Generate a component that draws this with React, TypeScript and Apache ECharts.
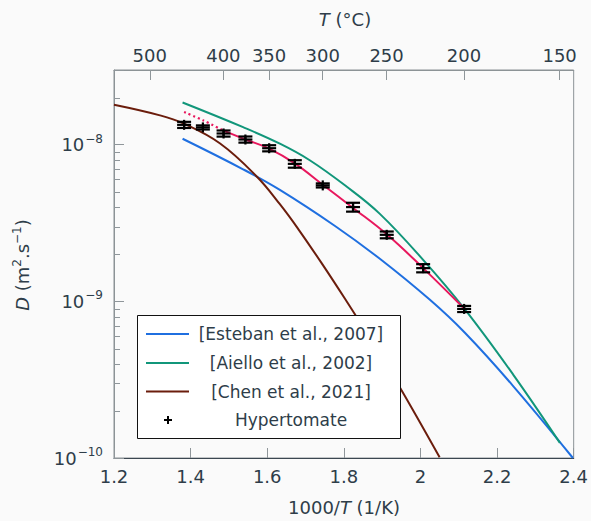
import React, { useEffect, useRef } from 'react';
import * as echarts from 'echarts';

// Hypertomate measurements (x = 1000/T in 1/K, D in m2/s, relative error)
const hyperX = [1.383, 1.432, 1.486, 1.543, 1.605, 1.672, 1.745, 1.824, 1.912, 2.007, 2.114];
const hyperY = [1.34e-8, 1.29e-8, 1.18e-8, 1.08e-8, 9.5e-9, 7.55e-9, 5.5e-9, 4.0e-9, 2.66e-9, 1.63e-9, 8.95e-10];
const hyperErr = [0.045, 0.03, 0.045, 0.045, 0.045, 0.055, 0.03, 0.065, 0.05, 0.06, 0.045];

// Fit (pink): solid part and dotted extrapolation
const fitX = [1.486, 1.543, 1.605, 1.672, 1.745, 1.824, 1.912, 2.007, 2.114];
const fitY = [1.23e-8, 1.08e-8, 9.45e-9, 7.6e-9, 5.55e-9, 3.95e-9, 2.68e-9, 1.63e-9, 9.0e-10];
const fitDotX = [1.383, 1.433, 1.486];
const fitDotY = [1.62e-8, 1.43e-8, 1.23e-8];

// [Esteban et al., 2007]
const estebanX = [1.379, 1.537, 1.633, 1.777, 1.894, 2.024, 2.116, 2.242, 2.398];
const estebanY = [1.092e-8, 6.97e-9, 5.15e-9, 3.03e-9, 1.87e-9, 1.026e-9, 6.3e-10, 2.88e-10, 1.0e-10];

// [Aiello et al., 2002]
const aielloX = [1.379, 1.537, 1.633, 1.711, 1.807, 1.894, 2.007, 2.116, 2.242, 2.364];
const aielloY = [1.86e-8, 1.294e-8, 1.015e-8, 7.96e-9, 5.41e-9, 3.62e-9, 1.84e-9, 8.89e-10, 3.41e-10, 1.25e-10];

// [Chen et al., 2021]
const chenX = [1.2, 1.32, 1.381, 1.477, 1.572, 1.633, 1.681, 1.742, 1.803, 1.87, 1.946, 2.05];
const chenY = [1.8e-8, 1.54e-8, 1.368e-8, 1.018e-8, 6.29e-9, 4.17e-9, 2.895e-9, 1.754e-9, 1.038e-9, 5.72e-10, 2.83e-10, 1.01e-10];

// Axis ticks
const topTempTicks = [500, 400, 350, 300, 250, 200, 150];
const minorMantissas = [2, 3, 4, 5, 6, 7, 8, 9];
const decades = [-10, -9, -8];

const legendNames = ['[Esteban et al., 2007]', '[Aiello et al., 2002]', '[Chen et al., 2021]', 'Hypertomate'];

const FONT = 'DejaVu Sans';
const TXT = '#2e3d49';
const AXIS_GRAY = '#8c9396';
const TICK_GRAY = '#8f969a';
const C_BLUE = '#1f6fe0';
const C_GREEN = '#11967a';
const C_BROWN = '#6b1d0c';
const C_PINK = '#e8175d';

const X_MIN = 1.2;
const X_MAX = 2.4;
const Y_MIN = 1e-10;
const Y_MAX = 3e-8;

const zip = (xs: number[], ys: number[]) => xs.map((x, i) => [x, ys[i]]);

export default function App() {
  const ref = useRef<HTMLDivElement>(null);
  useEffect(() => {
    if (!ref.current) return;
    const chart = echarts.init(ref.current, undefined, { renderer: 'svg' });
    const topVals = topTempTicks.map((t) => 1000 / (t + 273.15));
    const minorVals: number[] = [];
    decades.forEach((d) => minorMantissas.forEach((m) => {
      const v = m * Math.pow(10, d);
      if (v <= Y_MAX) minorVals.push(v);
    }));

    const supRich = {
      b: { fontSize: 18, fontFamily: FONT, color: TXT },
      s: { fontSize: 12, fontFamily: FONT, color: TXT, padding: [0, 0, 12, 1] },
    };

    const legendY = [334, 363, 391.5, 420];
    const legendColors = [C_BLUE, C_GREEN, C_BROWN];
    const legendChildren: any[] = [
      { type: 'rect', shape: { x: 137.5, y: 315.5, width: 263, height: 123 }, style: { fill: '#ffffff', stroke: '#111', lineWidth: 1 }, z: 100 },
    ];
    legendNames.forEach((name, i) => {
      if (i < 3) {
        legendChildren.push({ type: 'line', shape: { x1: 146, y1: legendY[i], x2: 189, y2: legendY[i] }, style: { stroke: legendColors[i], lineWidth: 2 }, z: 101 });
      } else {
        legendChildren.push({ type: 'line', shape: { x1: 164, y1: legendY[i], x2: 172, y2: legendY[i] }, style: { stroke: '#000', lineWidth: 2 }, z: 101 });
        legendChildren.push({ type: 'line', shape: { x1: 168, y1: legendY[i] - 4, x2: 168, y2: legendY[i] + 4 }, style: { stroke: '#000', lineWidth: 2 }, z: 101 });
      }
      legendChildren.push({ type: 'text', x: 291, y: legendY[i], style: { text: name, fontSize: 17, fontFamily: FONT, fill: TXT, align: 'center', verticalAlign: 'middle' }, z: 101 });
    });

    const option: any = {
      animation: false,
      backgroundColor: '#fafafa',
      grid: { left: 114, right: 17, top: 70, bottom: 63, show: true, borderColor: AXIS_GRAY, borderWidth: 1, backgroundColor: 'transparent' },
      xAxis: [
        {
          type: 'value', position: 'bottom', min: X_MIN, max: X_MAX, interval: 0.2,
          axisLine: { show: true, lineStyle: { color: '#3b4650', width: 1.2 } },
          axisTick: { show: true, inside: true, length: 10, lineStyle: { color: TICK_GRAY, width: 1 } },
          splitLine: { show: false },
          axisLabel: { margin: 9, fontSize: 18, fontFamily: FONT, color: TXT, formatter: (v: number) => String(+v.toFixed(1)) },
        },
        {
          type: 'value', position: 'top', min: X_MIN, max: X_MAX,
          axisLine: { show: true, lineStyle: { color: AXIS_GRAY, width: 1 } },
          axisTick: { show: true, inside: true, length: 10, customValues: topVals, lineStyle: { color: TICK_GRAY, width: 1 } },
          splitLine: { show: false },
          axisLabel: { margin: 6, fontSize: 18, fontFamily: FONT, color: TXT, customValues: topVals, formatter: (v: number) => String(Math.round(1000 / v - 273.15)) },
        },
      ],
      yAxis: [
        {
          type: 'log', logBase: 10, min: Y_MIN, max: Y_MAX, position: 'left',
          axisLine: { show: true, lineStyle: { color: AXIS_GRAY, width: 1 } },
          axisTick: { show: true, inside: true, length: 10, lineStyle: { color: TICK_GRAY, width: 1 } },
          minorTick: { show: false },
          splitLine: { show: false },
          axisLabel: {
            margin: 11, color: TXT, fontFamily: FONT, fontSize: 18, rich: supRich,
            formatter: (v: number) => {
              const e = Math.log10(v);
              if (Math.abs(e - Math.round(e)) > 0.01) return '';
              return `{b|10}{s|−${-Math.round(e)}}`;
            },
          },
        },
      ],
      graphic: [
        { type: 'text', x: 345, y: 19, style: { text: '{i|T} (°C)', align: 'center', verticalAlign: 'middle', fontSize: 18, fontFamily: FONT, fill: TXT, rich: { i: { fontStyle: 'italic', fontSize: 18, fontFamily: FONT, color: TXT } } }, z: 100 },
        { type: 'text', x: 344, y: 507, style: { text: '1000/{i|T} (1/K)', align: 'center', verticalAlign: 'middle', fontSize: 18, fontFamily: FONT, fill: TXT, rich: { i: { fontStyle: 'italic', fontSize: 18, fontFamily: FONT, color: TXT } } }, z: 100 },
        {
          type: 'text', x: 22, y: 265, rotation: Math.PI / 2,
          style: {
            text: '{i|D} (m{s|2}.s{s|−1})', align: 'center', verticalAlign: 'middle', fontSize: 18, fontFamily: FONT, fill: TXT,
            rich: {
              i: { fontStyle: 'italic', fontSize: 18, fontFamily: FONT, color: TXT },
              s: { fontSize: 12, fontFamily: FONT, color: TXT, padding: [0, 0, 10, 0] },
            },
          },
          z: 100,
        },
        { type: 'group', children: legendChildren },
      ],
      series: [
        { type: 'line', name: legendNames[0], data: zip(estebanX, estebanY), smooth: 0.4, showSymbol: false, lineStyle: { color: C_BLUE, width: 2 }, z: 3 },
        { type: 'line', name: legendNames[1], data: zip(aielloX, aielloY), smooth: 0.4, showSymbol: false, lineStyle: { color: C_GREEN, width: 2 }, z: 3 },
        { type: 'line', name: legendNames[2], data: zip(chenX, chenY), smooth: 0.4, showSymbol: false, lineStyle: { color: C_BROWN, width: 2 }, z: 3 },
        { type: 'line', name: 'fit', data: zip(fitX, fitY), smooth: 0.4, showSymbol: false, lineStyle: { color: C_PINK, width: 2 }, z: 4 },
        { type: 'line', name: 'fitDot', data: zip(fitDotX, fitDotY), smooth: 0.3, showSymbol: false, lineStyle: { color: C_PINK, width: 2.2, type: [2, 3] }, z: 4 },
        {
          type: 'custom', name: 'minorTicks', z: 2, silent: true, clip: false,
          data: minorVals.map((v) => [X_MIN, v]),
          encode: { x: 0, y: 1 },
          renderItem: (_p: any, api: any) => {
            const p = api.coord([api.value(0), api.value(1)]);
            const yy = Math.round(p[1]) + 0.5;
            return { type: 'line', shape: { x1: p[0], y1: yy, x2: p[0] + 6, y2: yy }, style: { stroke: TICK_GRAY, lineWidth: 1 } };
          },
        },
        {
          type: 'custom', name: legendNames[3], z: 5,
          data: hyperX.map((x, i) => [x, hyperY[i], hyperErr[i]]),
          encode: { x: 0, y: 1 },
          renderItem: (_p: any, api: any) => {
            const x = api.value(0), y = api.value(1), e = api.value(2);
            const c = api.coord([x, y]);
            const t = api.coord([x, y * (1 + e)]);
            const b = api.coord([x, y * (1 - e)]);
            const st = { stroke: '#000', lineWidth: 2.2 };
            const cw = 7;
            return {
              type: 'group',
              children: [
                { type: 'line', shape: { x1: c[0], y1: t[1], x2: c[0], y2: b[1] }, style: st },
                { type: 'line', shape: { x1: c[0] - cw, y1: t[1], x2: c[0] + cw, y2: t[1] }, style: st },
                { type: 'line', shape: { x1: c[0] - cw, y1: b[1], x2: c[0] + cw, y2: b[1] }, style: st },
                { type: 'line', shape: { x1: c[0] - 7, y1: c[1], x2: c[0] + 7, y2: c[1] }, style: st },
                { type: 'line', shape: { x1: c[0], y1: c[1] - 5, x2: c[0], y2: c[1] + 5 }, style: st },
              ],
            };
          },
        },
      ],
    };
    chart.setOption(option);
    return () => chart.dispose();
  }, []);
  return <div ref={ref} style={{ position: 'fixed', left: 0, top: 0, width: 591, height: 521 }} />;
}
